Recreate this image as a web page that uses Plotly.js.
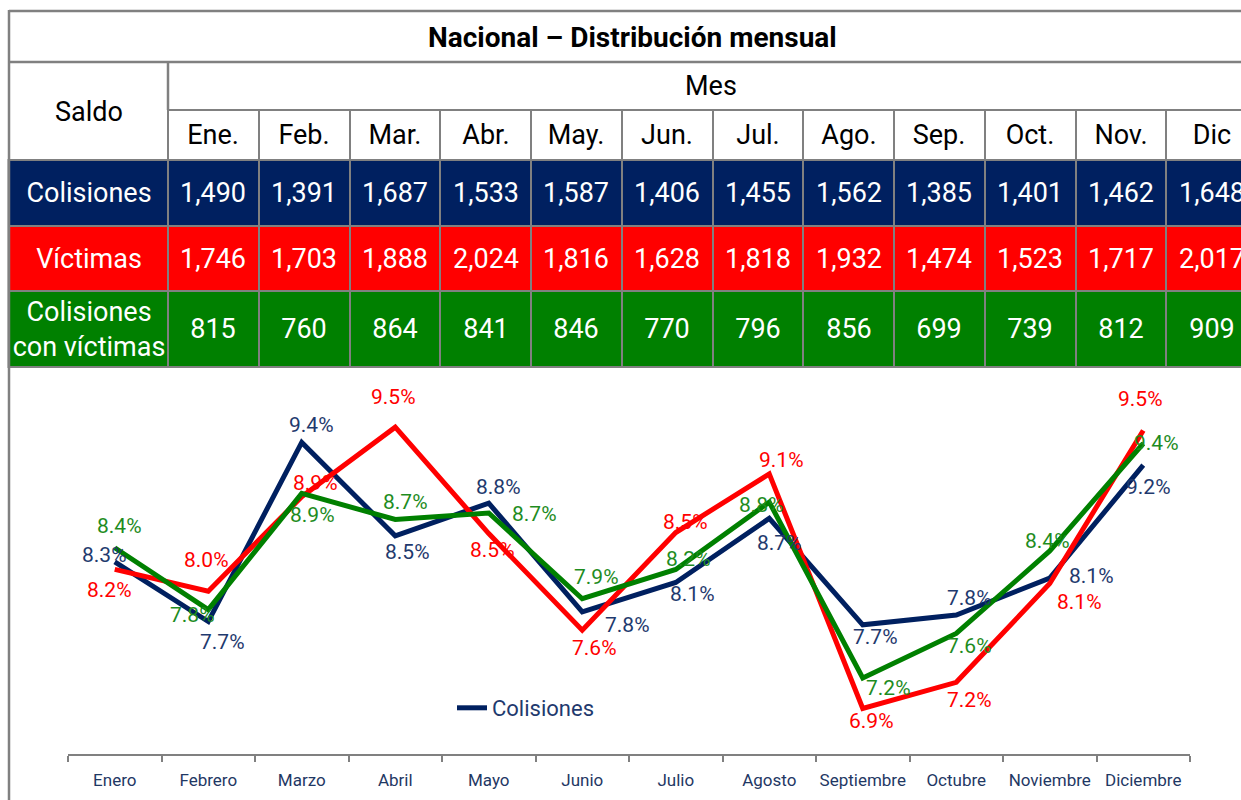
<!DOCTYPE html>
<html>
<head>
<meta charset="utf-8">
<script src="https://cdn.plot.ly/plotly-3.0.1.min.js"></script>
<style>html,body{margin:0;padding:0;background:#fff;}#chart{width:1241px;height:800px;}</style>
</head>
<body>
<div id="chart"></div>
<script>
// ---------- DATA ----------
const months = ['Enero','Febrero','Marzo','Abril','Mayo','Junio','Julio','Agosto','Septiembre','Octubre','Noviembre','Diciembre'];
const monthAbbr = ['Ene.','Feb.','Mar.','Abr.','May.','Jun.','Jul.','Ago.','Sep.','Oct.','Nov.','Dic'];
const rowLabels = ['Colisiones','Víctimas','Colisiones<br>con víctimas'];
const colisiones  = [1490,1391,1687,1533,1587,1406,1455,1562,1385,1401,1462,1648];
const victimas    = [1746,1703,1888,2024,1816,1628,1818,1932,1474,1523,1717,2017];
const conVictimas = [815,760,864,841,846,770,796,856,699,739,812,909];
const pctColisiones  = [8.27,7.72,9.37,8.51,8.81,7.81,8.08,8.67,7.69,7.78,8.12,9.16];
const pctVictimas    = [8.20,8.00,8.87,9.51,8.53,7.64,8.54,9.08,6.92,7.16,8.07,9.48];
const pctConVictimas = [8.40,7.83,8.90,8.66,8.72,7.93,8.20,8.82,7.20,7.61,8.37,9.36];

// ---------- STYLE ----------
const FONT = 'Liberation Sans Narrow, Arial Narrow, Roboto, sans-serif';
const NAVY = '#002060', RED = '#FF0000', GREEN = '#008000', GRID = '#808080';
const NAVY_TXT = '#1F3A6E', GREEN_TXT = '#1E8C1E';
const TABLE_FS = 27;
// label offsets [dx, dy] in px (dy positive = down)
const offNavy  = [[-10,-7],[14,20],[10,-17],[12,16],[10,-16],[45,13],[17,12],[10,25],[13,12],[13,-17],[42,-2],[5,22]];
const offRed   = [[-5,21],[-2,-31],[14,-14],[-2,-30],[4,16],[12,18],[10,-11],[12,-14],[9,13],[13,18],[30,18],[-3,-31]];
const offGreen = [[5,-22],[-16,5],[11,22],[10,-17],[46,1],[14,-22],[13,-10],[-8,3],[26,10],[13,13],[-2,-10],[13,0]];

// table geometry (pixel units on the table axes)
const W = 1241, H = 800;
const tableLeft = 9, firstColW = 159, monthColW = 90.75;
const colEdges = [tableLeft, tableLeft + firstColW];
for (let i = 1; i <= 12; i++) colEdges.push(tableLeft + firstColW + i * monthColW);
const headerEdges = [110, 160];
const rowEdges = [160, 226, 291, 367];

const fmt = v => v.toLocaleString('en-US');
const dataRows = [colisiones, victimas, conVictimas];
const zData = dataRows.map((r, i) => [i].concat(r.map(() => i)));
const tData = dataRows.map((r, i) => [rowLabels[i]].concat(r.map(fmt)));

const traces = [];
// table: data rows
traces.push({
  type: 'heatmap', xaxis: 'x2', yaxis: 'y2',
  x: colEdges, y: rowEdges, z: zData, text: tData, texttemplate: '%{text}',
  textfont: {family: FONT, size: TABLE_FS, color: '#FFFFFF'},
  colorscale: [[0, NAVY],[0.333, NAVY],[0.333, RED],[0.667, RED],[0.667, GREEN],[1, GREEN]],
  zmin: 0, zmax: 2, showscale: false, xgap: 2, ygap: 2, hoverinfo: 'skip'
});
// table: month header row
traces.push({
  type: 'heatmap', xaxis: 'x2', yaxis: 'y2',
  x: colEdges.slice(1), y: headerEdges, z: [monthAbbr.map(() => 0)], text: [monthAbbr], texttemplate: '%{text}',
  textfont: {family: FONT, size: TABLE_FS, color: '#000000'},
  colorscale: [[0, '#FFFFFF'],[1, '#FFFFFF']], showscale: false, xgap: 2, ygap: 2, hoverinfo: 'skip'
});

// line chart
const series = [
  {name: 'Colisiones', y: pctColisiones, color: NAVY, txt: NAVY_TXT, off: offNavy, legend: true},
  {name: 'Víctimas', y: pctVictimas, color: RED, txt: RED, off: offRed, legend: false},
  {name: 'Colisiones con víctimas', y: pctConVictimas, color: GREEN, txt: GREEN_TXT, off: offGreen, legend: false}
];
const annotations = [];
series.forEach(s => {
  traces.push({
    type: 'scatter', mode: 'lines', name: s.name, x: months, y: s.y,
    line: {color: s.color, width: 5}, showlegend: s.legend, hoverinfo: 'skip'
  });
  s.y.forEach((v, j) => {
    annotations.push({
      x: months[j], y: v, xref: 'x', yref: 'y', text: v.toFixed(1) + '%', showarrow: false,
      xanchor: 'center', yanchor: 'middle',
      xshift: s.off[j][0], yshift: -s.off[j][1],
      font: {family: FONT, size: 21, color: s.txt}
    });
  });
});

// table header texts
const hdr = (x, y, text, size) => ({xref: 'paper', yref: 'paper', x: x / W, y: 1 - y / H, text,
  xanchor: 'center', yanchor: 'middle', showarrow: false, font: {family: FONT, size, color: '#000'}});
annotations.push(hdr(632, 38, '<b>Nacional – Distribución mensual</b>', 28));
annotations.push(hdr(711, 86, 'Mes', TABLE_FS));
annotations.push(hdr(89, 112, 'Saldo', TABLE_FS));

const lineShape = (x0, y0, x1, y1) => ({type: 'line', xref: 'x2', yref: 'y2', x0, y0, x1, y1,
  line: {color: GRID, width: 2.5}, layer: 'above'});
const shapes = [
  {type: 'rect', xref: 'x2', yref: 'y2', x0: tableLeft - 1.5, x1: W + 2, y0: rowEdges[0] - 1, y1: rowEdges[3] + 1,
   fillcolor: GRID, line: {width: 0}, layer: 'below'},
  {type: 'rect', xref: 'x2', yref: 'y2', x0: colEdges[1] - 1, x1: W + 2, y0: headerEdges[0] - 1, y1: headerEdges[1],
   fillcolor: GRID, line: {width: 0}, layer: 'below'},
  lineShape(tableLeft, 11, W + 2, 11),
  lineShape(tableLeft, 62, W + 2, 62),
  lineShape(tableLeft, 10, tableLeft, H + 2),
  lineShape(colEdges[1], 62, colEdges[1], 110)
];

const layout = {
  width: W, height: H, margin: {l: 0, r: 0, t: 0, b: 0},
  paper_bgcolor: '#FFFFFF', plot_bgcolor: 'rgba(0,0,0,0)',
  showlegend: true,
  legend: {x: 452 / W, y: 1 - 708 / H, xanchor: 'left', yanchor: 'middle', bgcolor: 'rgba(0,0,0,0)',
    font: {family: FONT, size: 22, color: NAVY_TXT}},
  xaxis: {domain: [68 / W, 1190 / W], anchor: 'y', type: 'category', tickson: 'boundaries',
    range: [-0.5, 11.5], autorange: false,
    ticks: 'outside', ticklen: 6, tickwidth: 2, tickcolor: GRID, showline: true, linecolor: GRID, linewidth: 2,
    showgrid: false, zeroline: false, fixedrange: true, tickangle: 0,
    tickfont: {family: FONT, size: 17, color: '#1F3864'}, ticklabelstandoff: 10},
  yaxis: {domain: [46 / H, 426 / H], range: [6.5, 10], visible: false, fixedrange: true},
  xaxis2: {domain: [0, 1], range: [0, W], anchor: 'y2', visible: false, fixedrange: true},
  yaxis2: {domain: [0, 1], range: [H, 0], anchor: 'x2', visible: false, fixedrange: true},
  annotations, shapes
};
Plotly.newPlot('chart', traces, layout, {displayModeBar: false, staticPlot: true});
</script>
</body>
</html>
